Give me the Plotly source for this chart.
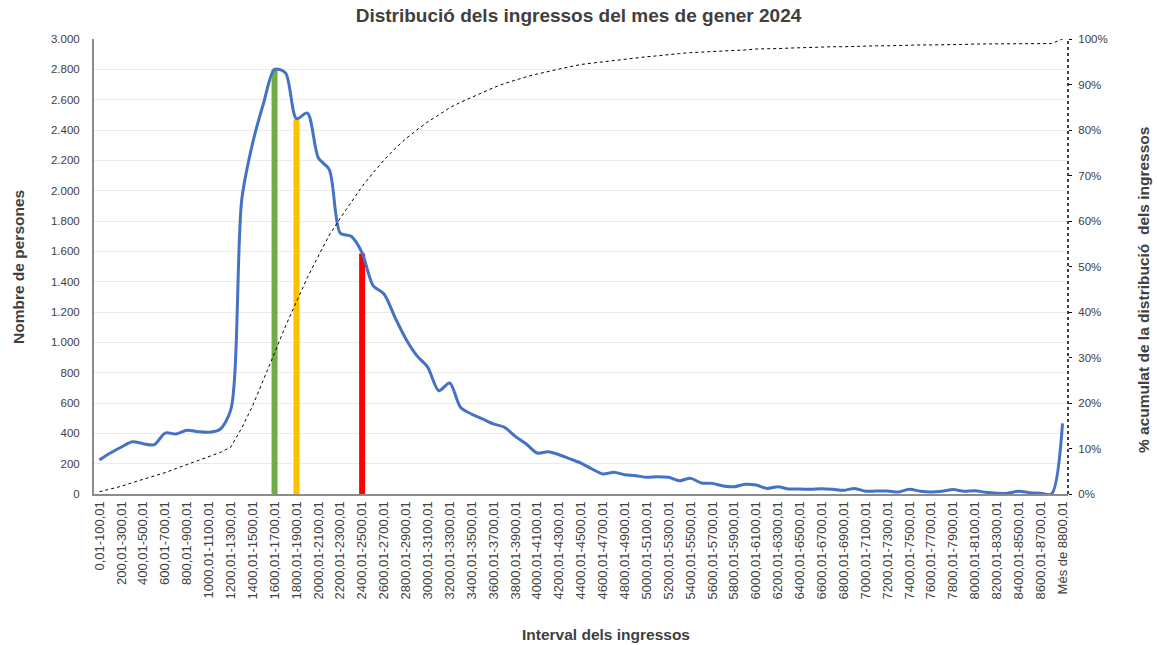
import plotly.graph_objects as go

categories = [
    "0,01-100,01", "100,01-200,01", "200,01-300,01", "300,01-400,01", "400,01-500,01",
    "500,01-600,01", "600,01-700,01", "700,01-800,01", "800,01-900,01", "900,01-1000,01",
    "1000,01-1100,01", "1100,01-1200,01", "1200,01-1300,01", "1300,01-1400,01", "1400,01-1500,01",
    "1500,01-1600,01", "1600,01-1700,01", "1700,01-1800,01", "1800,01-1900,01", "1900,01-2000,01",
    "2000,01-2100,01", "2100,01-2200,01", "2200,01-2300,01", "2300,01-2400,01", "2400,01-2500,01",
    "2500,01-2600,01", "2600,01-2700,01", "2700,01-2800,01", "2800,01-2900,01", "2900,01-3000,01",
    "3000,01-3100,01", "3100,01-3200,01", "3200,01-3300,01", "3300,01-3400,01", "3400,01-3500,01",
    "3500,01-3600,01", "3600,01-3700,01", "3700,01-3800,01", "3800,01-3900,01", "3900,01-4000,01",
    "4000,01-4100,01", "4100,01-4200,01", "4200,01-4300,01", "4300,01-4400,01", "4400,01-4500,01",
    "4500,01-4600,01", "4600,01-4700,01", "4700,01-4800,01", "4800,01-4900,01", "4900,01-5000,01",
    "5000,01-5100,01", "5100,01-5200,01", "5200,01-5300,01", "5300,01-5400,01", "5400,01-5500,01",
    "5500,01-5600,01", "5600,01-5700,01", "5700,01-5800,01", "5800,01-5900,01", "5900,01-6000,01",
    "6000,01-6100,01", "6100,01-6200,01", "6200,01-6300,01", "6300,01-6400,01", "6400,01-6500,01",
    "6500,01-6600,01", "6600,01-6700,01", "6700,01-6800,01", "6800,01-6900,01", "6900,01-7000,01",
    "7000,01-7100,01", "7100,01-7200,01", "7200,01-7300,01", "7300,01-7400,01", "7400,01-7500,01",
    "7500,01-7600,01", "7600,01-7700,01", "7700,01-7800,01", "7800,01-7900,01", "7900,01-8000,01",
    "8000,01-8100,01", "8100,01-8200,01", "8200,01-8300,01", "8300,01-8400,01", "8400,01-8500,01",
    "8500,01-8600,01", "8600,01-8700,01", "8700,01-8800,01", "Més de 8800,01",
]

persons = [
    225, 270, 310, 345, 332, 325, 402, 396, 420, 411,
    407, 425, 556, 1940, 2315, 2578, 2800, 2776, 2475, 2512,
    2215, 2139, 1721, 1699, 1590, 1374, 1319, 1165, 1022, 912,
    835, 681, 732, 571, 527, 495, 462, 440, 380, 330,
    270, 279, 259, 231, 204, 165, 132, 143, 127, 121,
    110, 114, 110, 88, 103, 73, 70, 53, 48, 64,
    59, 37, 48, 33, 33, 31, 35, 31, 24, 37,
    18, 20, 20, 13, 31, 18, 13, 18, 29, 18,
    22, 11, 5, 5, 18, 9, 5, 0, 466,
]

cumulative_pct = [
    0.5, 1.1, 1.7, 2.5, 3.2, 3.9, 4.7, 5.6, 6.5, 7.4,
    8.2, 9.1, 10.3, 14.5, 19.4, 25.0, 31.0, 36.9, 42.2, 47.6,
    52.3, 56.9, 60.6, 64.2, 67.6, 70.6, 73.4, 75.9, 78.1, 80.0,
    81.8, 83.3, 84.9, 86.1, 87.2, 88.3, 89.3, 90.2, 91.0, 91.7,
    92.3, 92.9, 93.4, 93.9, 94.4, 94.7, 95.0, 95.3, 95.6, 95.8,
    96.1, 96.3, 96.6, 96.8, 97.0, 97.1, 97.3, 97.4, 97.5, 97.6,
    97.8, 97.8, 97.9, 98.0, 98.1, 98.1, 98.2, 98.3, 98.3, 98.4,
    98.5, 98.5, 98.5, 98.6, 98.6, 98.7, 98.7, 98.7, 98.8, 98.8,
    98.9, 98.9, 98.9, 98.9, 99.0, 99.0, 99.0, 99.0, 100.0,
]

marker_categories = ["1600,01-1700,01", "1800,01-1900,01", "2400,01-2500,01"]
marker_values = [2800, 2470, 1585]

shown_ticks = categories[::2]

title_text = "Distribució dels ingressos del mes de gener 2024"
x_title = "Interval dels ingressos"
y_title = "Nombre de persones"
y2_title = "% acumulat de la distribució  dels ingressos"

FONT = "Liberation Sans, Arial, sans-serif"
TXT = "#404040"

fig = go.Figure()

fig.add_trace(go.Bar(
    x=marker_categories, y=marker_values,
    marker=dict(color=["#70AD47", "#FFC000", "#FF0000"], line=dict(width=0)),
    width=0.55, yaxis="y", showlegend=False,
))

fig.add_trace(go.Scatter(
    x=categories, y=persons, mode="lines",
    line=dict(color="#4472C4", width=3, shape="spline", smoothing=0.8),
    yaxis="y", showlegend=False,
))

fig.add_trace(go.Scatter(
    x=categories, y=[v / 100 for v in cumulative_pct], mode="lines",
    line=dict(color="#000000", width=1, dash="dot"),
    yaxis="y2", showlegend=False,
))

fig.update_layout(
    width=1157, height=645,
    margin=dict(l=94, r=89, t=39, b=151),
    paper_bgcolor="white", plot_bgcolor="white",
    separators=",.",
    font=dict(family=FONT, color=TXT, size=12),
    title=dict(text="<b>" + title_text + "</b>", x=0.5, xref="container",
               y=1 - 15 / 645, yref="container", yanchor="middle", xanchor="center",
               font=dict(size=19, color=TXT, family=FONT)),
    xaxis=dict(
        type="category", categoryorder="array", categoryarray=categories,
        range=[-0.5, len(categories) - 0.5],
        tickmode="array", tickvals=shown_ticks, ticktext=shown_ticks,
        tickangle=-90, tickfont=dict(size=13, color=TXT),
        showline=True, linecolor="#8C8C8C", linewidth=2,
        showgrid=False, ticks="", zeroline=False,
    ),
    yaxis=dict(
        range=[0, 3000], dtick=200, tickformat=",d",
        tickfont=dict(size=11.5, color=TXT),
        showline=True, linecolor="#8C8C8C", linewidth=2,
        showgrid=True, gridcolor="#EBEBEB", gridwidth=1,
        zeroline=False, ticks="", ticklabelstandoff=10,
    ),
    yaxis2=dict(
        range=[0, 1], dtick=0.1, tickformat=".0%",
        overlaying="y", side="right",
        tickfont=dict(size=11.5, color=TXT),
        showline=False, showgrid=False, zeroline=False,
        ticks="outside", ticklen=3, tickcolor="#000000", tickwidth=1,
        ticklabelstandoff=4,
    ),
    shapes=[dict(type="line", xref="paper", yref="paper", x0=1, x1=1, y0=0, y1=1,
                 line=dict(color="#000000", width=1.5, dash="dot"))],
    annotations=[
        dict(text="<b>" + x_title + "</b>", xref="paper", yref="paper",
             x=(606 - 94) / 974, y=(494 - 634) / 455, showarrow=False,
             xanchor="center", yanchor="middle", font=dict(size=15.5, color=TXT)),
        dict(text="<b>" + y_title + "</b>", xref="paper", yref="paper",
             x=(18 - 94) / 974, y=(494 - 267) / 455, showarrow=False, textangle=-90,
             xanchor="center", yanchor="middle", font=dict(size=15.5, color=TXT)),
        dict(text="<b>" + y2_title + "</b>", xref="paper", yref="paper",
             x=(1143 - 94) / 974, y=(494 - 290) / 455, showarrow=False, textangle=-90,
             xanchor="center", yanchor="middle", font=dict(size=15.5, color=TXT)),
    ],
)

fig.write_html("out.html", config={"displayModeBar": False},
               post_script="document.body.style.margin='0px';")
